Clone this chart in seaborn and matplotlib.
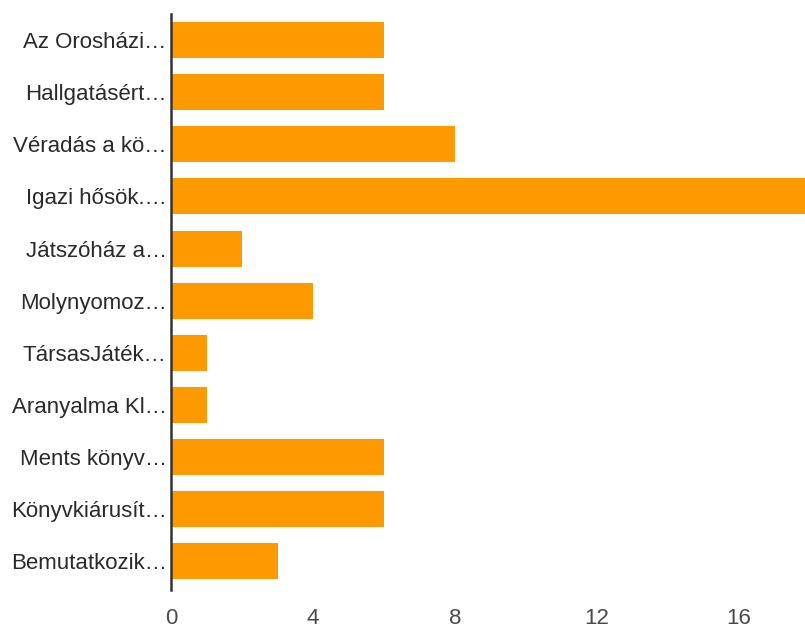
import matplotlib
matplotlib.use("Agg")
import matplotlib.pyplot as plt
import seaborn as sns
import pandas as pd

categories = ["Az Orosházi…", "Hallgatásért…", "Véradás a kö…", "Igazi hősök.…",
              "Játszóház a…", "Molynyomoz…", "TársasJáték…", "Aranyalma Kl…",
              "Ments könyv…", "Könyvkiárusít…", "Bemutatkozik…"]
values = [6, 6, 8, 18, 2, 4, 1, 1, 6, 6, 3]
xticks = [0, 4, 8, 12, 16]

df = pd.DataFrame({"cat": categories, "val": values})

sns.set_theme(style="white")
plt.rcParams['font.family'] = ['Liberation Sans', 'DejaVu Sans']

fig = plt.figure(figsize=(8.05, 6.24), dpi=100)
ax = fig.add_axes([171/805, 1 - 590/624, (805-171)/805, (590-14)/624])
sns.barplot(data=df, x="val", y="cat", color="#FF9900", saturation=1,
            width=0.69, orient="h", ax=ax)
for p in ax.patches:
    p.set_edgecolor("none")
ax.set_xlim(0, 634/35.5)
ax.set_ylim(len(categories) - 0.45, -0.5)
ax.set_xticks(xticks)
ax.set_xlabel("")
ax.set_ylabel("")
for s in ["top", "right", "bottom"]:
    ax.spines[s].set_visible(False)
ax.spines["left"].set_color("#333333")
ax.spines["left"].set_linewidth(1.8)
ax.tick_params(axis="y", length=0, pad=3, labelsize=16, labelcolor="#2a2a2a")
ax.tick_params(axis="x", length=0, pad=13, labelsize=16, labelcolor="#4a4a4a")
fig.savefig("out.png", dpi=100)
